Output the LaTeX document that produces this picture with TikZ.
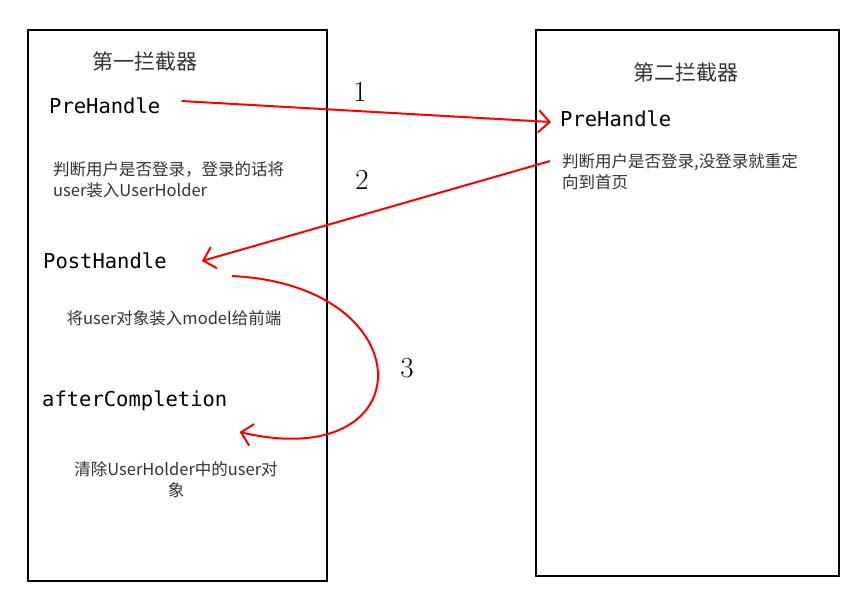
\documentclass[tikz,border=0pt]{standalone}
\usepackage{fontspec}
\newfontfamily\cjk{Noto Sans CJK SC}
\newfontfamily\monof{DejaVu Sans Mono}
\usetikzlibrary{arrows.meta,calc}
\definecolor{desc}{HTML}{333333}
\definecolor{arr}{HTML}{FF0000}
\tikzset{
  box/.style={draw=black,line width=2pt},
  title/.style={font=\cjk\fontsize{21}{24}\selectfont,text=desc,inner sep=0pt},
  method/.style={font=\monof\fontsize{20.5}{24}\selectfont,text=black,anchor=west,inner sep=0pt},
  note/.style={font=\cjk\fontsize{16.5}{21}\selectfont,text=desc,inner sep=0pt},
  num/.style={font=\fontsize{29}{30}\selectfont,inner sep=0pt},
  flow/.style={draw=arr,line width=2pt,-{Straight Barb[length=11pt,width=22pt,line width=2pt]}}
}
\begin{document}
\begin{tikzpicture}[x=1pt,y=-1pt]
\useasboundingbox (0,0) rectangle (867,592);
\fill[white] (0,0) rectangle (867,592);
\node[box,minimum width=299pt,minimum height=551pt,anchor=north west,inner sep=0pt] (b1) at (27,29) {};
\node[box,minimum width=303pt,minimum height=546pt,anchor=north west,inner sep=0pt] (b2) at (535,29) {};
\node[title] (t1) at (145,61) {第一拦截器};
\node[title] (t2) at (686,72) {第二拦截器};
\node[method] (pre1) at (49,106) {PreHandle};
\node[method] (pre2) at (560,119) {PreHandle};
\node[method] (post) at (43,261) {PostHandle};
\node[method] (after) at (42,401) {afterCompletion};
\node[note,anchor=west,align=left] (d1) at (53,180) {判断用户是否登录，登录的话将\\user装入UserHolder};
\node[note,anchor=west,align=left] (d2) at (562,172) {判断用户是否登录,没登录就重定\\向到首页};
\node[note] (d3) at (174,318) {将user对象装入model给前端};
\node[note,align=center] (d4) at (176,480) {清除UserHolder中的user对\\象};
\node[num] (n1) at (360,92) {1};
\node[num] (n2) at (362,180) {2};
\node[num] (n3) at (407,368) {3};
\draw[flow] ($(pre1.east)+(21,-5)$) -- ($(pre2.west)+(-9,3)$);
\draw[flow] ($(d2.west)+(-12,-11)$) -- ($(post.east)+(35,0)$);
\draw[flow] ($(post.east)+(65,15)$) .. controls (425,285) and (425,475) .. ($(after.east)+(12,31)$);
\end{tikzpicture}
\end{document}
